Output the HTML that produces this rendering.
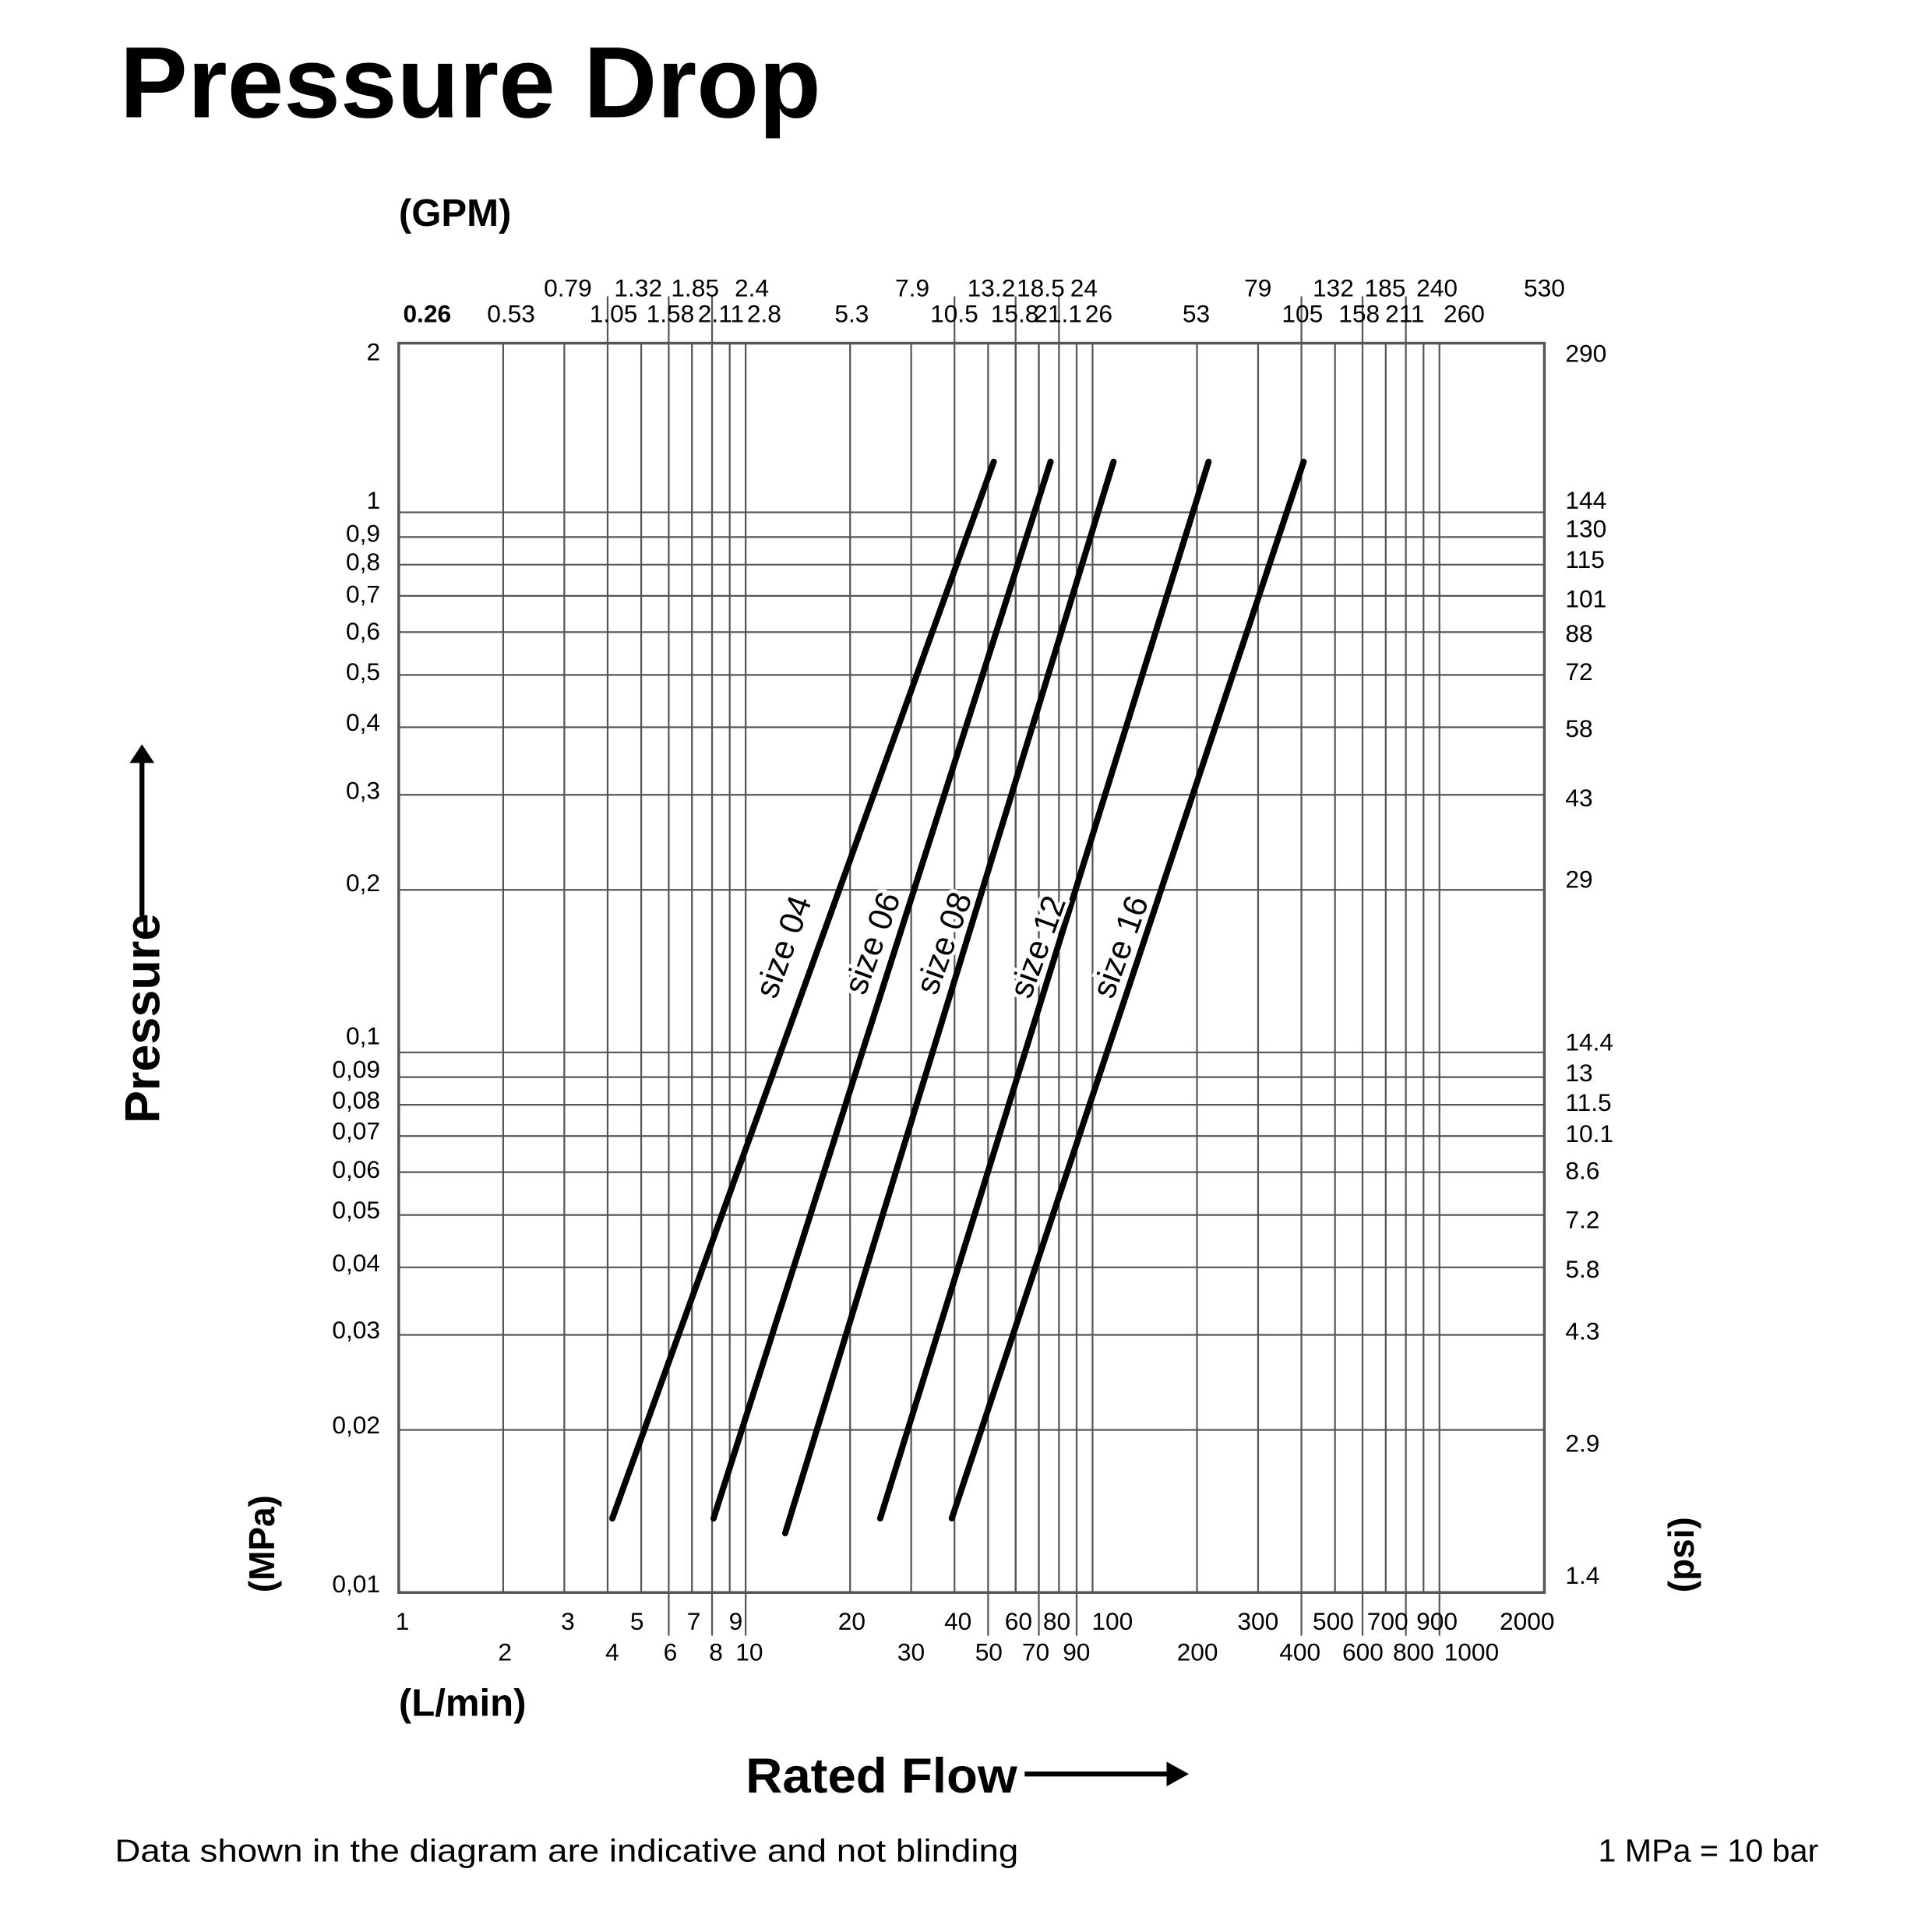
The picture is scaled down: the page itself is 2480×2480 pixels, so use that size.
<!DOCTYPE html>
<html><head><meta charset="utf-8"><style>html,body{margin:0;padding:0;background:#fff}svg{display:block}</style></head>
<body>
<svg width="2480" height="2480" viewBox="0 0 1565 1565" xmlns="http://www.w3.org/2000/svg" font-family="'Liberation Sans', sans-serif">
<rect width="1565" height="1565" fill="#fff"/>
<text x="97" y="95" font-size="82" font-weight="bold" textLength="568" lengthAdjust="spacingAndGlyphs">Pressure Drop</text>
<text x="323" y="183" font-size="31" font-weight="bold">(GPM)</text>
<text x="323" y="1390" font-size="31" font-weight="bold">(L/min)</text>
<text x="604" y="1452" font-size="40" font-weight="bold" textLength="220" lengthAdjust="spacingAndGlyphs">Rated Flow</text>
<line x1="830" y1="1437" x2="948" y2="1437" stroke="#000" stroke-width="4"/>
<polygon points="945,1427 963,1437 945,1447" fill="#000"/>
<text transform="translate(129,910) rotate(-90)" font-size="40" font-weight="bold" textLength="170" lengthAdjust="spacingAndGlyphs">Pressure</text>
<line x1="115" y1="742" x2="115" y2="615" stroke="#000" stroke-width="4"/>
<polygon points="105,618 115,603 125,618" fill="#000"/>
<text transform="translate(222,1290) rotate(-90)" font-size="29" font-weight="bold">(MPa)</text>
<text transform="translate(1372,1290) rotate(-90)" font-size="29" font-weight="bold">(psi)</text>
<text x="93" y="1508" font-size="26" textLength="732" lengthAdjust="spacingAndGlyphs">Data shown in the diagram are indicative and not blinding</text>
<text x="1473" y="1508" font-size="26" text-anchor="end">1 MPa = 10 bar</text>

<g stroke="#555" stroke-width="1.4" fill="none">
<path d="M407.6 278V1290M457.1 278V1290M519.4 278V1290M560.5 278V1290M591.1 278V1290M688.6 278V1290M738.1 278V1290M822.7 278V1290M841.5 278V1290M885 278V1290M969.6 278V1290M1019.1 278V1290M1081.4 278V1290M1122.5 278V1290M1153.1 278V1290"/>
<path d="M492.2 240V1290M541.7 240V1325M576.8 240V1325M773.2 240V1290M822.7 240V1290M857.8 240V1290M1054.2 240V1325M1103.7 240V1325M1138.8 240V1325"/>
<path d="M604 278V1325M800.4 278V1325M841.5 278V1325M872.1 278V1325M1166 278V1325"/>
<path d="M323 1158.3H1251M323 1081.3H1251M323 1026.6H1251M323 984.2H1251M323 949.5H1251M323 920.2H1251M323 894.9H1251M323 872.5H1251M323 852.5H1251M323 720.8H1251M323 643.8H1251M323 589.1H1251M323 546.7H1251M323 512H1251M323 482.7H1251M323 457.4H1251M323 435H1251M323 415H1251"/>
</g>
<rect x="323" y="278" width="928" height="1012" fill="none" stroke="#555" stroke-width="2.2"/>

<g stroke="#000" stroke-width="5" stroke-linecap="round">
<line x1="496" y1="1230" x2="805" y2="374"/>
<line x1="578" y1="1230" x2="851" y2="374"/>
<line x1="636" y1="1242" x2="902" y2="374"/>
<line x1="713" y1="1230" x2="979" y2="374"/>
<line x1="771" y1="1230" x2="1056" y2="374"/>
</g>
<g font-size="27" text-anchor="middle">
<text transform="translate(643,770) rotate(-70)" stroke="#fff" stroke-width="6" fill="#000" paint-order="stroke">size 04</text>
<text transform="translate(715,767) rotate(-70)" stroke="#fff" stroke-width="6" fill="#000" paint-order="stroke">size 06</text>
<text transform="translate(773,767) rotate(-70)" stroke="#fff" stroke-width="6" fill="#000" paint-order="stroke">size 08</text>
<text transform="translate(849,770) rotate(-70)" stroke="#fff" stroke-width="6" fill="#000" paint-order="stroke">size 12</text>
<text transform="translate(916,770) rotate(-70)" stroke="#fff" stroke-width="6" fill="#000" paint-order="stroke">size 16</text>
</g>

<g font-size="20" text-anchor="middle">
<text x="460" y="240">0.79</text><text x="517" y="240">1.32</text><text x="563" y="240">1.85</text><text x="609" y="240">2.4</text>
<text x="739" y="240">7.9</text><text x="803" y="240">13.2</text><text x="843" y="240">18.5</text><text x="878" y="240">24</text>
<text x="1019" y="240">79</text><text x="1080" y="240">132</text><text x="1122" y="240">185</text><text x="1164" y="240">240</text><text x="1251" y="240">530</text>
<text x="346" y="261" font-weight="bold">0.26</text><text x="414" y="261">0.53</text><text x="497" y="261">1.05</text><text x="543" y="261">1.58</text>
<text x="584" y="261">2.11</text><text x="619" y="261">2.8</text><text x="690" y="261">5.3</text><text x="773" y="261">10.5</text>
<text x="822" y="261">15.8</text><text x="857" y="261">21.1</text><text x="890" y="261">26</text><text x="969" y="261">53</text>
<text x="1055" y="261">105</text><text x="1101" y="261">158</text><text x="1138" y="261">211</text><text x="1186" y="261">260</text>

<text x="326" y="1320">1</text><text x="460" y="1320">3</text><text x="516" y="1320">5</text><text x="562" y="1320">7</text><text x="596" y="1320">9</text>
<text x="690" y="1320">20</text><text x="776" y="1320">40</text><text x="825" y="1320">60</text><text x="856" y="1320">80</text><text x="901" y="1320">100</text>
<text x="1019" y="1320">300</text><text x="1080" y="1320">500</text><text x="1124" y="1320">700</text><text x="1164" y="1320">900</text><text x="1237" y="1320">2000</text>
<text x="409" y="1345">2</text><text x="496" y="1345">4</text><text x="543" y="1345">6</text><text x="580" y="1345">8</text><text x="607" y="1345">10</text>
<text x="738" y="1345">30</text><text x="801" y="1345">50</text><text x="839" y="1345">70</text><text x="872" y="1345">90</text><text x="970" y="1345">200</text>
<text x="1053" y="1345">400</text><text x="1104" y="1345">600</text><text x="1145" y="1345">800</text><text x="1192" y="1345">1000</text>
</g>
<g font-size="20" text-anchor="end">
<text x="308" y="292">2</text><text x="308" y="412">1</text><text x="308" y="439">0,9</text><text x="308" y="462">0,8</text>
<text x="308" y="488">0,7</text><text x="308" y="518">0,6</text><text x="308" y="551">0,5</text><text x="308" y="592">0,4</text>
<text x="308" y="647">0,3</text><text x="308" y="722">0,2</text><text x="308" y="846">0,1</text><text x="308" y="873">0,09</text>
<text x="308" y="898">0,08</text><text x="308" y="923">0,07</text><text x="308" y="954">0,06</text><text x="308" y="987">0,05</text>
<text x="308" y="1030">0,04</text><text x="308" y="1084">0,03</text><text x="308" y="1161">0,02</text><text x="308" y="1290">0,01</text>
</g>
<g font-size="20">
<text x="1268" y="293">290</text><text x="1268" y="412">144</text><text x="1268" y="435">130</text><text x="1268" y="460">115</text>
<text x="1268" y="492">101</text><text x="1268" y="520">88</text><text x="1268" y="551">72</text><text x="1268" y="597">58</text>
<text x="1268" y="653">43</text><text x="1268" y="719">29</text><text x="1268" y="851">14.4</text><text x="1268" y="876">13</text>
<text x="1268" y="900">11.5</text><text x="1268" y="925">10.1</text><text x="1268" y="955">8.6</text><text x="1268" y="995">7.2</text>
<text x="1268" y="1035">5.8</text><text x="1268" y="1085">4.3</text><text x="1268" y="1176">2.9</text><text x="1268" y="1283">1.4</text>
</g>
</svg>
</body></html>
